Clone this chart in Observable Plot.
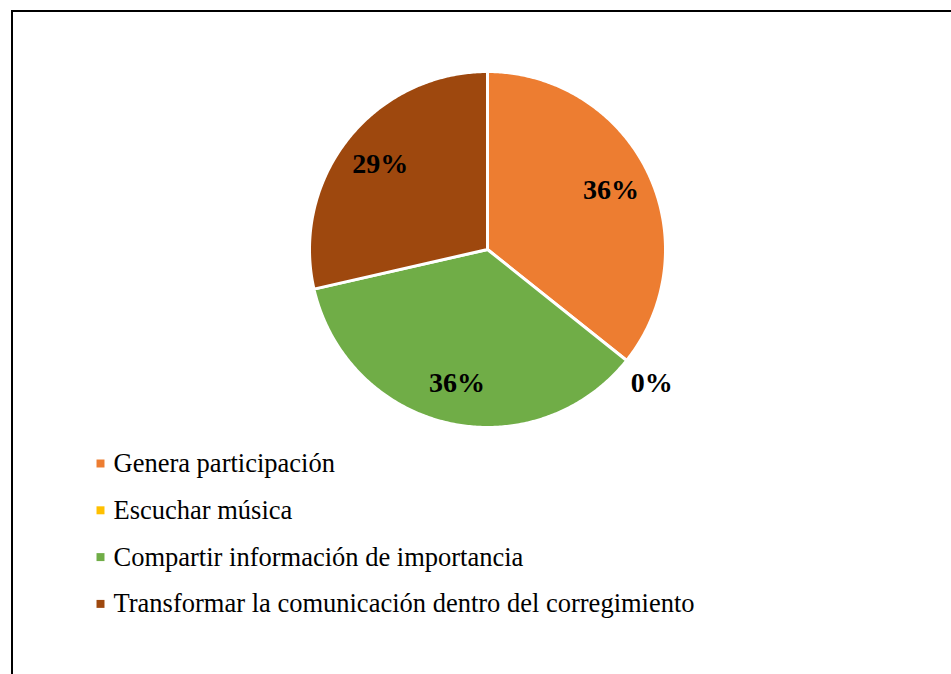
<!DOCTYPE html>
<html>
<head>
<meta charset="utf-8">
<script src="https://cdn.jsdelivr.net/npm/d3@7"></script>
<script src="https://cdn.jsdelivr.net/npm/@observablehq/plot@0.6"></script>
<style>
  html, body { margin: 0; padding: 0; background: #fff; overflow: hidden; }
  #wrap { position: relative; width: 951px; height: 674px; }
  #border { position: absolute; left: 11px; top: 10px; width: 1000px; height: 800px;
            border-top: 2px solid #000; border-left: 2px solid #000; }
  #chart { position: absolute; left: 0; top: 0; }
</style>
</head>
<body>
<div id="wrap"><div id="border"></div><div id="chart"></div></div>
<script>
const categories = ["Genera participación", "Escuchar música", "Compartir información de importancia", "Transformar la comunicación dentro del corregimiento"];
const values = [5, 0, 5, 4];
const pctLabels = ["36%", "0%", "36%", "29%"];
const colors = ["#ED7D31", "#FFC000", "#70AD47", "#9E480E"];

const W = 951, H = 674;
const cx = 487, cy = 249, R = 178;

const data = categories.map((c, i) => ({cat: c, value: values[i], label: pctLabels[i], idx: i}));
const arcs = d3.pie().sort(null).value(d => d.value)(data);

// slice outline points derived from pie angles
const pts = [];
for (const a of arcs) {
  if (a.endAngle - a.startAngle <= 0) continue;
  pts.push({cat: a.data.cat, x: cx, y: cy});
  const n = Math.max(2, Math.ceil((a.endAngle - a.startAngle) / 0.01));
  for (let k = 0; k <= n; k++) {
    const t = a.startAngle + (a.endAngle - a.startAngle) * k / n;
    pts.push({cat: a.data.cat, x: cx + R * Math.sin(t), y: cy - R * Math.cos(t)});
  }
}

const labelPts = arcs.map(a => {
  const m = (a.startAngle + a.endAngle) / 2;
  const rr = a.data.value === 0 ? R * 1.19 : R * 0.77;
  const ang = a.data.value === 0 ? a.startAngle + 0.01 : m;
  return {label: a.data.label, x: cx + rr * Math.sin(ang), y: cy - rr * Math.cos(ang)};
});

const legendPts = categories.map((c, i) => ({cat: c, y: 463 + i * 46.8}));

const plot = Plot.plot({
  width: W, height: H,
  margin: 0,
  x: {domain: [0, W], range: [0, W], axis: null},
  y: {domain: [0, H], range: [0, H], axis: null},
  color: {domain: categories, range: colors},
  style: {background: "transparent"},
  marks: [
    Plot.line(pts, {x: "x", y: "y", z: "cat", fill: "cat", stroke: "white", strokeWidth: 3, curve: "linear-closed"}),
    Plot.text(labelPts, {x: "x", y: "y", text: "label", fontFamily: "Liberation Serif", fontWeight: "bold", fontSize: 28, fill: "black"}),
    Plot.dot(legendPts, {x: () => 100, y: "y", symbol: "square", r: 4.5, fill: "cat", stroke: null}),
    Plot.text(legendPts, {x: () => 113, y: "y", text: "cat", textAnchor: "start", fontFamily: "Liberation Serif", fontSize: 26.5, fill: "black"})
  ]
});
document.getElementById("chart").appendChild(plot);
</script>
</body>
</html>
